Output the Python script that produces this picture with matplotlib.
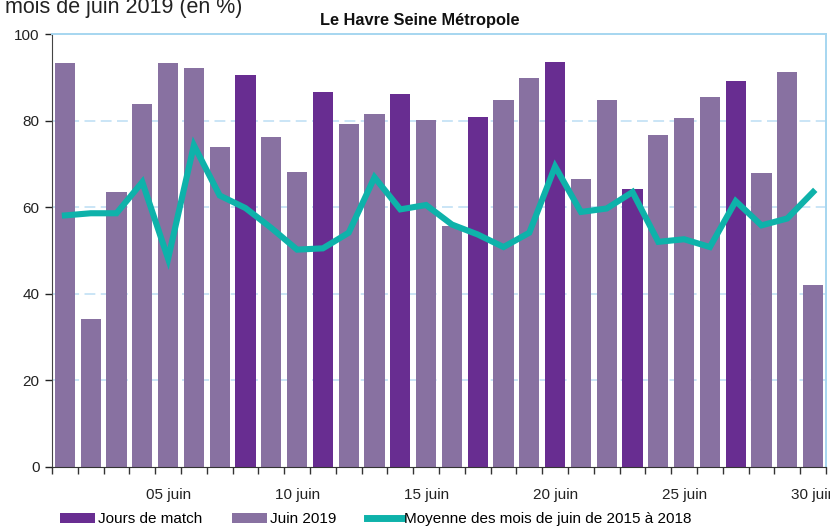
import matplotlib

matplotlib.use("Agg")
import matplotlib.pyplot as plt
from matplotlib.patches import Patch
from matplotlib.lines import Line2D

plt.rcParams["font.family"] = ["Liberation Sans Narrow", "Liberation Sans", "DejaVu Sans"]

# taux d'occupation, juin 2019 (jours 1..30)
days = list(range(1, 31))
juin_2019 = [93.3, 34.1, 63.4, 83.9, 93.3, 92.1, 74.0, 90.5, 76.3, 68.1,
             86.5, 79.3, 81.6, 86.2, 80.2, 55.6, 80.8, 84.8, 89.8, 93.5,
             66.6, 84.8, 64.3, 76.7, 80.6, 85.5, 89.1, 68.0, 91.2, 42.0]
match_days = [8, 11, 14, 17, 20, 23, 27]
moyenne_2015_2018 = [58.1, 58.6, 58.6, 65.8, 48.1, 74.3, 62.7, 59.8, 55.2, 50.2,
                     50.5, 54.1, 66.9, 59.5, 60.5, 56.0, 53.7, 50.8, 54.1, 69.4,
                     58.9, 59.7, 63.5, 52.0, 52.6, 50.8, 61.4, 55.8, 57.4, 63.5]
label_days = [5, 10, 15, 20, 25, 30]
label_text = ["05 juin", "10 juin", "15 juin", "20 juin", "25 juin", "30 juin"]

C_LIGHT = "#8871A1"
C_DARK = "#682D91"
C_TEAL = "#0EB2AA"
C_GRID = "#C6E3F6"

fig = plt.figure(figsize=(8.3, 5.28), dpi=100)
ax = fig.add_axes([52 / 830, 1 - 467 / 528, 774 / 830, 433 / 528])

colors = [C_DARK if d in match_days else C_LIGHT for d in days]
ax.bar(days, juin_2019, width=0.78, color=colors, zorder=2)
ax.plot(days, moyenne_2015_2018, color=C_TEAL, lw=4.4, zorder=3,
        solid_joinstyle="miter")

ax.set_xlim(0.5, 30.5)
ax.set_ylim(0, 100)
ax.set_yticks([0, 20, 40, 60, 80, 100])
for v in [20, 40, 60, 80]:
    ax.axhline(v, color=C_GRID, lw=1.3, ls=(0, (6, 3)), zorder=1)

ax.set_xticks(label_days)
ax.set_xticklabels(label_text)
ax.set_xticks([d + 0.5 for d in range(0, 31)], minor=True)
ax.tick_params(axis="x", which="major", length=0, labelsize=11, pad=15, colors="#222222")
ax.tick_params(axis="x", which="minor", length=5, width=1, direction="out", color="#333333")
ax.tick_params(axis="y", length=5, width=1, labelsize=11, colors="#222222", pad=4)

for s in ["top", "right"]:
    ax.spines[s].set_color("#A6D6F0")
    ax.spines[s].set_linewidth(1.4)
ax.spines["left"].set_color("#444444")
ax.spines["bottom"].set_color("#333333")

fig.text(0.006, 1 - 13 / 528, "mois de juin 2019 (en %)", fontsize=15.5,
         va="baseline", ha="left", color="#222222")
fig.text(0.506, 1 - 20 / 528, "Le Havre Seine Métropole", fontsize=11.8,
         fontweight="bold", ha="center", va="center", color="#111111")

handles = [
    Patch(facecolor=C_DARK, edgecolor="none"),
    Patch(facecolor=C_LIGHT, edgecolor="none"),
    Line2D([0], [0], color=C_TEAL, lw=5),
]
fig.legend(handles, ["Jours de match", "Juin 2019", "Moyenne des mois de juin de 2015 à 2018"],
           loc="lower left", bbox_to_anchor=(54 / 830, -0.008), ncol=3, frameon=False,
           fontsize=11, handlelength=2.3, handleheight=0.65, handletextpad=0.15,
           columnspacing=2.0, borderaxespad=0)

fig.savefig("out.png", dpi=100)
